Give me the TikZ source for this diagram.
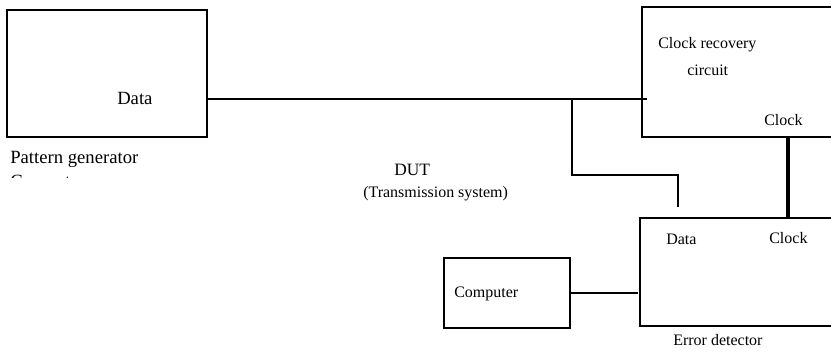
\documentclass[tikz,border=0pt]{standalone}
\usepackage{fontspec}
\setmainfont{Liberation Serif}
\usetikzlibrary{fit}
\begin{document}
\begin{tikzpicture}[x=0.75pt,y=-0.75pt,
  box/.style={draw,line width=1.1pt,inner sep=0pt},
  wire/.style={line width=1.1pt},
  thickwire/.style={line width=2.3pt},
  lbl/.style={anchor=base west,inner sep=0pt,font=\fontsize{12}{14}\selectfont},
  biglbl/.style={anchor=base west,inner sep=0pt,font=\fontsize{14}{17}\selectfont}]
\useasboundingbox (0,0) rectangle (831,355);
\clip (0,0) rectangle (831,355);
% boxes
\node[box,fit={(7,10) (207,137)}] (pg) {};
\node[box,fit={(642,7) (845,137)}] (cr) {};
\node[box,fit={(640,218) (845,326)}] (ed) {};
\node[box,fit={(444,258) (570,328)}] (comp) {};
% helper coordinates
\coordinate (crin) at (647,99);
\coordinate (j1) at (572,99);
\coordinate (bend) at (678,175);
\coordinate (edin) at (678,207);
\coordinate (clk) at (788,0);
\coordinate (edl) at (638,0);
% connectors
\draw[wire] (pg.east |- crin) -- (crin);
\draw[wire] (j1) -- (j1 |- bend) -- (bend) -- (edin);
\draw[thickwire] (cr.south -| clk) -- (ed.north -| clk);
\draw[wire] (comp.east) -- (comp.east -| edl);
% labels
\node[biglbl] (pgdata) at (117,104) {Data};
\node[biglbl] (pgname) at (10,163) {Pattern generator};
\begin{scope}
\clip (0,140) rectangle (200,177.5);
\node[biglbl] (pgcut) at (10,187.5) {Computer};
\end{scope}
\node[lbl] (crname1) at (658,48) {Clock recovery};
\node[lbl] (crname2) at (687,75) {circuit};
\node[lbl] (crclk) at (764,125) {Clock};
\node[anchor=base west,inner sep=0pt,font=\fontsize{13}{15}\selectfont] (dut) at (394,175) {DUT};
\node[lbl] (trans) at (363,197) {(Transmission system)};
\node[lbl] (eddata) at (666,244) {Data};
\node[lbl] (edclk) at (769,243) {Clock};
\node[lbl] (compname) at (454,297) {Computer};
\node[lbl] (edname) at (673,345) {Error detector};
\end{tikzpicture}
\end{document}
